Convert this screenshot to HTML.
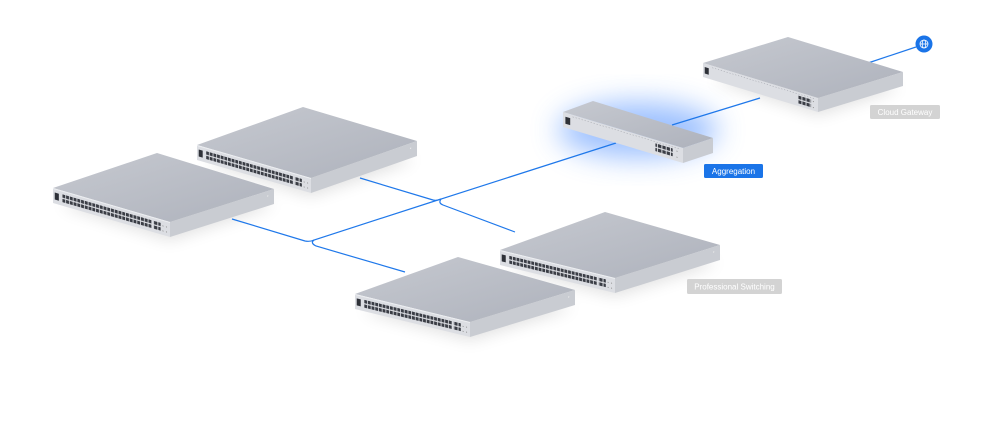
<!DOCTYPE html>
<html><head><meta charset="utf-8"><style>
html,body{margin:0;padding:0;background:#fff;width:1000px;height:432px;overflow:hidden}
svg{display:block}
.lbl{font-family:"Liberation Sans",sans-serif;font-size:8px;fill:#fff}
</style></head><body>
<svg width="1000" height="432" viewBox="0 0 1000 432" xmlns="http://www.w3.org/2000/svg">
<defs>
<linearGradient id="top" x1="0" y1="0" x2="1" y2="1">
<stop offset="0" stop-color="#c6c9d0"/><stop offset="1" stop-color="#aeb2bc"/></linearGradient>
<pattern id="ports" patternUnits="userSpaceOnUse" x="8" y="3.5" width="3.2" height="4.6">
<rect x="0" y="0" width="2.5" height="3.4" fill="#3a3d45"/></pattern>
<pattern id="sfp" patternUnits="userSpaceOnUse" x="0" y="3.5" width="3.6" height="4.6">
<rect x="0" y="0" width="2.8" height="3.4" fill="#3a3d45"/></pattern>
<filter id="blur" x="-50%" y="-50%" width="200%" height="200%"><feGaussianBlur stdDeviation="8"/></filter>
<filter id="glow" x="-50%" y="-50%" width="200%" height="200%"><feGaussianBlur stdDeviation="14"/></filter>
<g id="bigfront">
<rect x="0" y="0" width="100" height="15" fill="#dcdee3"/>
<rect x="0" y="0" width="100" height="1" fill="#eceef1"/>
<rect x="1.5" y="4" width="3.5" height="7" fill="#2e3138"/>
<rect x="8" y="3.5" width="76.6" height="8" fill="url(#ports)"/>
<rect x="85.5" y="3.5" width="6.5" height="8" fill="url(#sfp)"/>
<circle cx="94" cy="6" r="0.5" fill="#888"/><circle cx="94" cy="11" r="0.5" fill="#888"/>
<circle cx="97" cy="6" r="0.5" fill="#888"/><circle cx="97" cy="11" r="0.5" fill="#888"/>
</g>
<g id="bigside"><rect x="0" y="0" width="100" height="15" fill="#c9ccd2"/><circle cx="94" cy="5" r="0.6" fill="#eee"/></g>
</defs>

<g filter="url(#blur)" fill="#000" opacity="0.12">
<polygon points="60,205 170,240 275,205 170,175"/>
<polygon points="205,162 311,196 415,160 311,130"/>
<polygon points="362,311 470,340 573,308 470,280"/>
<polygon points="507,267 615,296 718,263 615,235"/>
<polygon points="712,80 818,115 900,88 818,60"/>
</g>

<ellipse cx="638" cy="130" rx="80" ry="28" fill="#5c97ff" opacity="0.6" filter="url(#glow)"/>

<g fill="none" stroke="#1f78ea" stroke-width="1.2">
<path d="M868,63 L916,47"/>
<path d="M760,98 L672,125"/>
<path d="M616,143 L441,199 Q437,201 433,200 L360,178"/>
<path d="M441,199 Q438,203 443,205 L515,232"/>
<path d="M441,199 L314,240 Q310,242 305,241 L232,219"/>
<path d="M314,240 Q310,243 316,246 L405,272"/>
</g>

<polygon points="53,188 157,153 274,189 170,222" fill="url(#top)"/>
<use href="#bigfront" transform="matrix(1.17,0.34,0,1,53,188)"/>
<use href="#bigside" transform="matrix(1.04,-0.33,0,1,170,222)"/>
<polygon points="197,145 303,107 417,141 311,178" fill="url(#top)"/>
<use href="#bigfront" transform="matrix(1.14,0.33,0,1,197,145)"/>
<use href="#bigside" transform="matrix(1.06,-0.37,0,1,311,178)"/>
<polygon points="355,294 458,257 575,290 470,322" fill="url(#top)"/>
<use href="#bigfront" transform="matrix(1.15,0.28,0,1,355,294)"/>
<use href="#bigside" transform="matrix(1.05,-0.32,0,1,470,322)"/>
<polygon points="500,250 605,212 720,245 615,278" fill="url(#top)"/>
<use href="#bigfront" transform="matrix(1.15,0.28,0,1,500,250)"/>
<use href="#bigside" transform="matrix(1.05,-0.33,0,1,615,278)"/>

<polygon points="703,63 788,37 903,72 818,98" fill="url(#top)"/>
<g transform="matrix(1.15,0.35,0,1,703,63)">
<rect x="0" y="0" width="100" height="14" fill="#dcdee3"/>
<rect x="1.5" y="3.5" width="3.5" height="6.5" fill="#2e3138"/>
<line x1="8" y1="2" x2="98" y2="2" stroke="#9a9da5" stroke-width="0.5" stroke-dasharray="1 1.5"/>
<rect x="83" y="3.5" width="11" height="8" fill="url(#sfp)"/>
<circle cx="96" cy="5" r="0.5" fill="#888"/><circle cx="96" cy="11" r="0.5" fill="#888"/>
</g>
<g transform="matrix(0.85,-0.26,0,1,818,98)"><rect x="0" y="0" width="100" height="14" fill="#c9ccd2"/></g>

<polygon points="563,112 593,101 713,138 683,148" fill="url(#top)"/>
<g transform="matrix(1.2,0.36,0,1,563,112)">
<rect x="0" y="0" width="100" height="15" fill="#dcdee3"/>
<rect x="2" y="4" width="4" height="7" fill="#2e3138"/>
<line x1="8" y1="2" x2="98" y2="2" stroke="#9a9da5" stroke-width="0.5" stroke-dasharray="1 1.5"/>
<rect x="77" y="3.5" width="14.4" height="8" fill="url(#sfp)"/>
<circle cx="95" cy="5" r="0.5" fill="#888"/><circle cx="95" cy="11" r="0.5" fill="#888"/>
</g>
<g transform="matrix(0.3,-0.1,0,1,683,148)"><rect x="0" y="0" width="100" height="15" fill="#c9ccd2"/></g>

<circle cx="924" cy="44" r="8.5" fill="#1a74e8"/>
<g fill="none" stroke="#fff" stroke-width="0.8">
<circle cx="924" cy="44" r="4"/><ellipse cx="924" cy="44" rx="1.8" ry="4"/>
<line x1="920" y1="44" x2="928" y2="44"/></g>

<rect x="870" y="105" width="70" height="14" rx="1.5" fill="#d3d3d3"/>
<text x="905" y="115" class="lbl" text-anchor="middle">Cloud Gateway</text>
<rect x="704" y="164" width="59" height="14" rx="1.5" fill="#1a74e8"/>
<text x="733.5" y="174" class="lbl" text-anchor="middle">Aggregation</text>
<rect x="687" y="279" width="95" height="15" rx="1.5" fill="#d3d3d3"/>
<text x="734.5" y="289.5" class="lbl" text-anchor="middle">Professional Switching</text>
</svg>
</body></html>
